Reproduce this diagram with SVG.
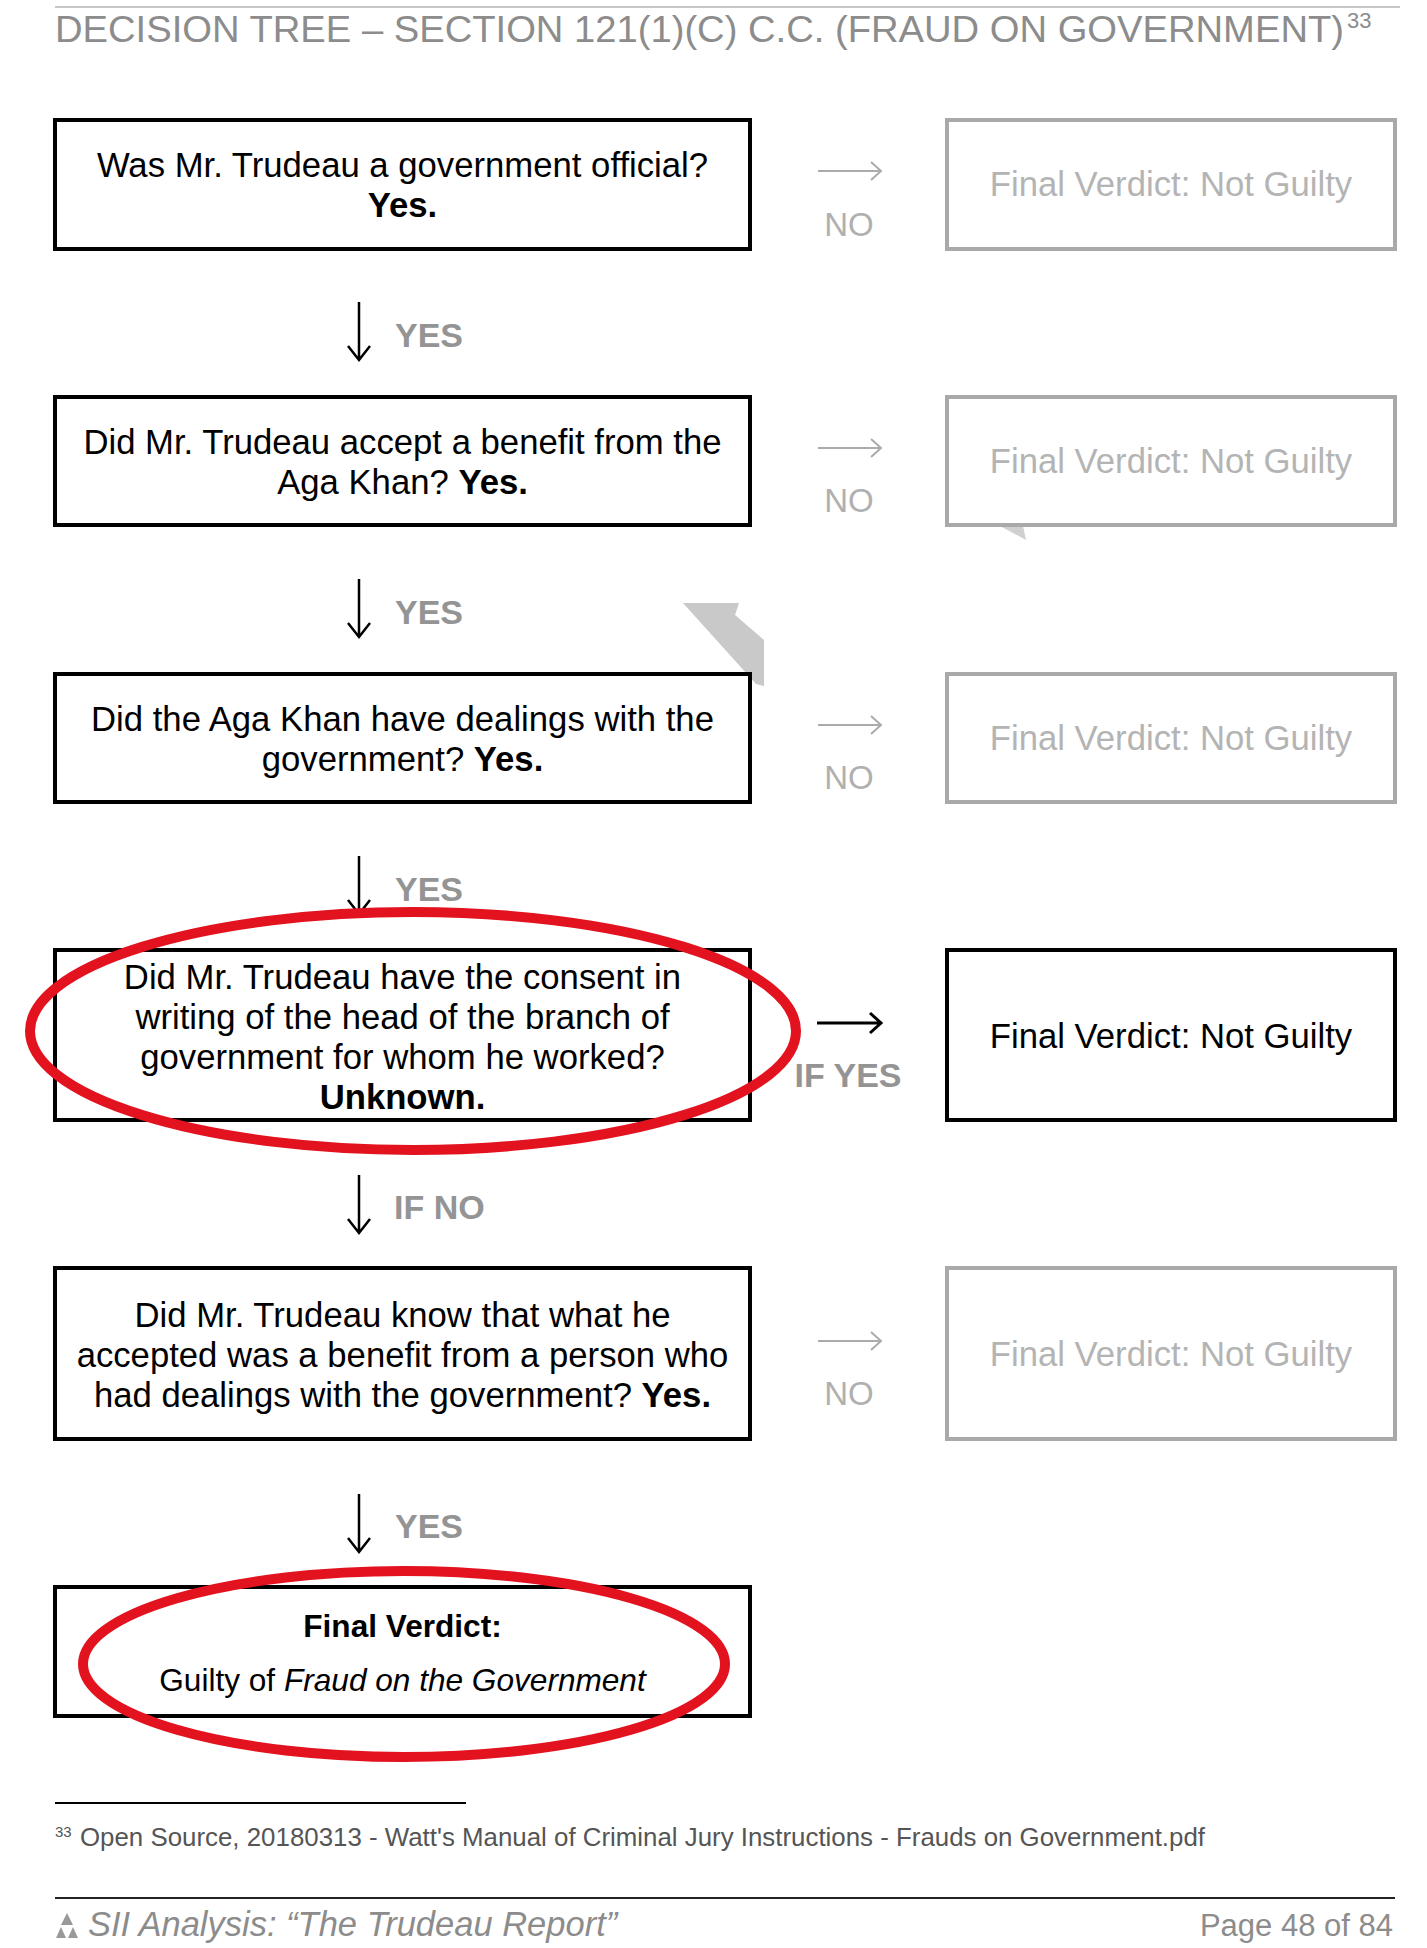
<svg xmlns="http://www.w3.org/2000/svg" width="1427" height="1948" viewBox="0 0 1427 1948">
<style>
  .q { fill: #000; font-family: "Liberation Sans", Arial, sans-serif; font-size: 34.7px; text-anchor: middle; }
  .g6 { font-size: 31.6px; }
  .b { font-weight: bold; }
  .i { font-style: italic; }
  .box { fill: #fff; stroke: #000; stroke-width: 4; }
  .ghost { fill: #fff; stroke: #a9a9a9; stroke-width: 4; }
  .ghostText { fill: #b4b4b4; font-family: "Liberation Sans", Arial, sans-serif; font-size: 34.7px; text-anchor: middle; }
  .lab { fill: #949494; font-family: "Liberation Sans", Arial, sans-serif; font-size: 34px; font-weight: bold; }
  .no { fill: #b0b0b0; font-family: "Liberation Sans", Arial, sans-serif; font-size: 33px; text-anchor: middle; }
  .down { fill: none; stroke: #000; stroke-width: 2.5; }
  .right { fill: none; stroke: #ababab; stroke-width: 2; }
  .rightBlack { fill: none; stroke: #000; stroke-width: 3; }
  .ring { fill: none; stroke: #e3121f; stroke-width: 10; }
</style>

<!-- header -->
<line x1="55" y1="7" x2="1400" y2="7" stroke="#c8c8c8" stroke-width="2"/>
<text x="55" y="42" font-family="Liberation Sans, Arial, sans-serif" font-size="36" fill="#8c8c8c" textLength="1289" lengthAdjust="spacingAndGlyphs">DECISION TREE – SECTION 121(1)(C) C.C. (FRAUD ON GOVERNMENT)</text>
<text x="1347" y="28" font-family="Liberation Sans, Arial, sans-serif" font-size="22" fill="#8c8c8c">33</text>

<!-- scan artifacts -->
<polygon points="683,603 739,603 735,615 764,640 764,686 756,684" fill="#c9c9c9"/>
<polygon points="1000,526 1023,526 1026,540" fill="#d0d0d0"/>

<!-- connectors -->
<g id="connectors">
  <g id="down1"><path class="down" d="M359,302 V360 M348,346 L359,360 L370,346"/><text class="lab" x="395" y="347">YES</text></g>
  <g id="down2"><path class="down" d="M359,579 V637 M348,623 L359,637 L370,623"/><text class="lab" x="395" y="624">YES</text></g>
  <g id="down3"><path class="down" d="M359,856 V914 M348,900 L359,914 L370,900"/><text class="lab" x="395" y="901">YES</text></g>
  <g id="down4"><path class="down" d="M359,1175 V1233 M348,1219 L359,1233 L370,1219"/><text class="lab" x="394" y="1219">IF NO</text></g>
  <g id="down5"><path class="down" d="M359,1494 V1552 M348,1538 L359,1552 L370,1538"/><text class="lab" x="395" y="1538">YES</text></g>

  <g id="right1"><path class="right" d="M818,171 H880 M871,162 L881,171 L871,180"/><text class="no" x="849" y="236">NO</text></g>
  <g id="right2"><path class="right" d="M818,448 H880 M871,439 L881,448 L871,457"/><text class="no" x="849" y="512">NO</text></g>
  <g id="right3"><path class="right" d="M818,725 H880 M871,716 L881,725 L871,734"/><text class="no" x="849" y="789">NO</text></g>
  <g id="right4"><path class="rightBlack" d="M817,1023 H880 M870,1013 L881,1023 L870,1033"/><text class="lab" x="848" y="1087" text-anchor="middle">IF YES</text></g>
  <g id="right5"><path class="right" d="M818,1341 H880 M871,1332 L881,1341 L871,1350"/><text class="no" x="849" y="1405">NO</text></g>
</g>

<!-- question nodes -->
<g id="q1">
  <rect class="box" x="55" y="120" width="695" height="129"/>
  <text class="q" x="402.5" y="177">Was Mr. Trudeau a government official?</text>
  <text class="q b" x="402.5" y="217">Yes.</text>
</g>
<g id="nv1">
  <rect class="ghost" x="947" y="120" width="448" height="129"/>
  <text class="ghostText" x="1171" y="196">Final Verdict: Not Guilty</text>
</g>

<g id="q2">
  <rect class="box" x="55" y="397" width="695" height="128"/>
  <text class="q" x="402.5" y="454">Did Mr. Trudeau accept a benefit from the</text>
  <text class="q" x="402.5" y="494">Aga Khan? <tspan class="b">Yes.</tspan></text>
</g>
<g id="nv2">
  <rect class="ghost" x="947" y="397" width="448" height="128"/>
  <text class="ghostText" x="1171" y="473">Final Verdict: Not Guilty</text>
</g>

<g id="q3">
  <rect class="box" x="55" y="674" width="695" height="128"/>
  <text class="q" x="402.5" y="731">Did the Aga Khan have dealings with the</text>
  <text class="q" x="402.5" y="771">government? <tspan class="b">Yes.</tspan></text>
</g>
<g id="nv3">
  <rect class="ghost" x="947" y="674" width="448" height="128"/>
  <text class="ghostText" x="1171" y="750">Final Verdict: Not Guilty</text>
</g>

<g id="q4">
  <rect class="box" x="55" y="950" width="695" height="170"/>
  <text class="q" x="402.5" y="989">Did Mr. Trudeau have the consent in</text>
  <text class="q" x="402.5" y="1029">writing of the head of the branch of</text>
  <text class="q" x="402.5" y="1069">government for whom he worked?</text>
  <text class="q b" x="402.5" y="1109">Unknown.</text>
</g>
<g id="nv4">
  <rect class="box" x="947" y="950" width="448" height="170"/>
  <text class="q" x="1171" y="1048">Final Verdict: Not Guilty</text>
</g>

<g id="q5">
  <rect class="box" x="55" y="1268" width="695" height="171"/>
  <text class="q" x="402.5" y="1327">Did Mr. Trudeau know that what he</text>
  <text class="q" x="402.5" y="1367">accepted was a benefit from a person who</text>
  <text class="q" x="402.5" y="1407">had dealings with the government? <tspan class="b">Yes.</tspan></text>
</g>
<g id="nv5">
  <rect class="ghost" x="947" y="1268" width="448" height="171"/>
  <text class="ghostText" x="1171" y="1366">Final Verdict: Not Guilty</text>
</g>

<g id="guilty">
  <rect class="box" x="55" y="1587" width="695" height="129"/>
  <text class="q g6 b" x="402.5" y="1637">Final Verdict:</text>
  <text class="q g6" x="402.5" y="1691">Guilty of <tspan class="i">Fraud on the Government</tspan></text>
</g>

<!-- red highlight rings -->
<ellipse class="ring" cx="413" cy="1031" rx="383" ry="119"/>
<ellipse class="ring" cx="404" cy="1664" rx="321" ry="93"/>

<!-- footnote -->
<line x1="55" y1="1803" x2="466" y2="1803" stroke="#000" stroke-width="2"/>
<text x="55" y="1837" font-family="Liberation Sans, Arial, sans-serif" font-size="15" fill="#555">33</text>
<text x="80" y="1846" font-family="Liberation Sans, Arial, sans-serif" font-size="25" fill="#555" textLength="1125" lengthAdjust="spacingAndGlyphs">Open Source, 20180313 - Watt's Manual of Criminal Jury Instructions - Frauds on Government.pdf</text>

<!-- footer -->
<line x1="55" y1="1898" x2="1395" y2="1898" stroke="#222" stroke-width="2"/>
<g fill="#999">
  <polygon points="67,1913 61,1925 73,1925"/>
  <polygon points="61,1927 56,1938 66,1938"/>
  <polygon points="73,1927 68,1938 78,1938"/>
</g>
<text x="88" y="1936" font-family="Liberation Sans, Arial, sans-serif" font-size="34.5" font-style="italic" fill="#8c8c8c">SII Analysis: “The Trudeau Report”</text>
<text x="1393" y="1936" font-family="Liberation Sans, Arial, sans-serif" font-size="31" fill="#8c8c8c" text-anchor="end">Page 48 of 84</text>
</svg>
